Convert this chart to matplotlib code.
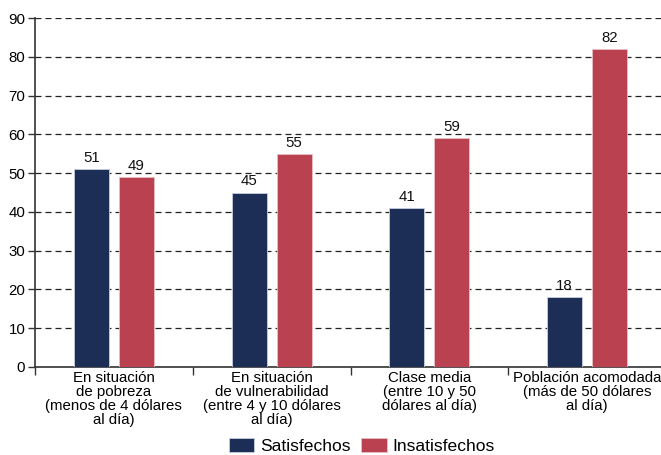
import matplotlib
matplotlib.use("Agg")
import matplotlib.pyplot as plt
import numpy as np

plt.rcParams['font.family'] = ['Liberation Sans', 'DejaVu Sans']

categories = ["En situación\nde pobreza\n(menos de 4 dólares\nal día)",
              "En situación\nde vulnerabilidad\n(entre 4 y 10 dólares\nal día)",
              "Clase media\n(entre 10 y 50\ndólares al día)",
              "Población acomodada\n(más de 50 dólares\nal día)"]
satisfechos = [51, 45, 41, 18]
insatisfechos = [49, 55, 59, 82]
series_names = ["Satisfechos", "Insatisfechos"]
yticks = [0, 10, 20, 30, 40, 50, 60, 70, 80, 90]

c_sat = "#1c2e56"
c_ins = "#b94150"

W, H = 661, 455
fig = plt.figure(figsize=(W/100, H/100), dpi=100)
ax_left, ax_right, ax_bottom, ax_top = 35, 666, 367, 18
ax = fig.add_axes([ax_left/W, 1-ax_bottom/H, (ax_right-ax_left)/W, (ax_bottom-ax_top)/H])

x = np.arange(len(categories)) + 0.5
bw = 0.222
off = 0.143
b1 = ax.bar(x-off, satisfechos, bw, color=c_sat, edgecolor="#c8cde0", linewidth=0.6, label=series_names[0], zorder=3)
b2 = ax.bar(x+off, insatisfechos, bw, color=c_ins, edgecolor="#e8c0c6", linewidth=0.6, label=series_names[1], zorder=3)
for bars, vals in ((b1, satisfechos), (b2, insatisfechos)):
    for r, v in zip(bars, vals):
        ax.annotate(str(v), (r.get_x()+r.get_width()/2, v), xytext=(0, 3), textcoords="offset points",
                    ha="center", va="bottom", fontsize=10.8, color="#111111", zorder=4)

fs = 10.8
ax.set_xlim(0, 4)
ax.set_ylim(0, 90)
ax.set_yticks(yticks)
ax.set_yticklabels([str(t) for t in yticks], fontsize=fs)
ax.set_xticks([0, 1, 2, 3, 4])
ax.set_xticklabels([])
ax.set_xticks(x, minor=True)
ax.set_xticklabels(categories, minor=True, fontsize=fs, linespacing=0.98)
ax.tick_params(axis='x', which='minor', length=0, pad=3)
ax.tick_params(axis='x', which='major', length=6, width=1, color="#333333", direction='out')
ax.tick_params(axis='y', length=5, width=1, color="#333333", pad=2)
for s in ("top", "right"):
    ax.spines[s].set_visible(False)
for s in ("left", "bottom"):
    ax.spines[s].set_color("#333333")
    ax.spines[s].set_linewidth(1.2)
ax.yaxis.grid(True, linestyle=(0, (4.8, 3.2)), color="#222222", linewidth=0.9, zorder=0)
ax.set_axisbelow(True)

fig.legend(handles=[b1, b2], labels=series_names, loc="center", bbox_to_anchor=(362/W, 1-446/H),
           ncol=2, frameon=False, fontsize=12.6, handlelength=1.45, handleheight=0.85,
           columnspacing=0.6, handletextpad=0.35)

fig.savefig("out.png", dpi=100)
